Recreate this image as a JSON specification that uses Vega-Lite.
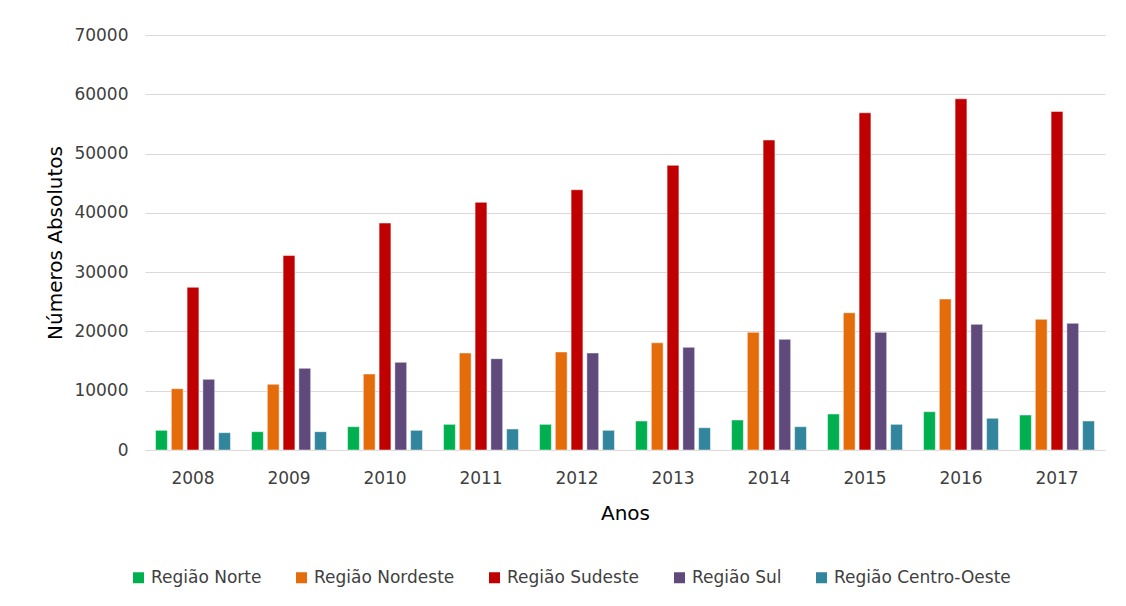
{
  "$schema": "https://vega.github.io/schema/vega-lite/v6.json",
  "width": 960,
  "height": 415,
  "autosize": {"type": "none"},
  "padding": {"left": 145, "top": 35, "right": 21, "bottom": 156},
  "background": "white",
  "config": {
    "view": {"stroke": null},
    "font": "DejaVu Sans",
    "axis": {"labelFont": "DejaVu Sans", "titleFont": "DejaVu Sans", "labelColor": "#404040", "titleColor": "#000000", "titleFontWeight": "normal"},
    "legend": {"labelFont": "DejaVu Sans"}
  },
  "data": {
    "values": [
      {"ano": "2008", "regiao": "Região Norte", "valor": 3320},
      {"ano": "2008", "regiao": "Região Nordeste", "valor": 10340},
      {"ano": "2008", "regiao": "Região Sudeste", "valor": 27440},
      {"ano": "2008", "regiao": "Região Sul", "valor": 11920},
      {"ano": "2008", "regiao": "Região Centro-Oeste", "valor": 2920},
      {"ano": "2009", "regiao": "Região Norte", "valor": 3090},
      {"ano": "2009", "regiao": "Região Nordeste", "valor": 11080},
      {"ano": "2009", "regiao": "Região Sudeste", "valor": 32800},
      {"ano": "2009", "regiao": "Região Sul", "valor": 13780},
      {"ano": "2009", "regiao": "Região Centro-Oeste", "valor": 3090},
      {"ano": "2010", "regiao": "Região Norte", "valor": 3930},
      {"ano": "2010", "regiao": "Região Nordeste", "valor": 12820},
      {"ano": "2010", "regiao": "Região Sudeste", "valor": 38280},
      {"ano": "2010", "regiao": "Região Sul", "valor": 14790},
      {"ano": "2010", "regiao": "Região Centro-Oeste", "valor": 3320},
      {"ano": "2011", "regiao": "Região Norte", "valor": 4330},
      {"ano": "2011", "regiao": "Região Nordeste", "valor": 16360},
      {"ano": "2011", "regiao": "Região Sudeste", "valor": 41770},
      {"ano": "2011", "regiao": "Região Sul", "valor": 15400},
      {"ano": "2011", "regiao": "Região Centro-Oeste", "valor": 3540},
      {"ano": "2012", "regiao": "Região Norte", "valor": 4330},
      {"ano": "2012", "regiao": "Região Nordeste", "valor": 16530},
      {"ano": "2012", "regiao": "Região Sudeste", "valor": 43900},
      {"ano": "2012", "regiao": "Região Sul", "valor": 16360},
      {"ano": "2012", "regiao": "Região Centro-Oeste", "valor": 3320},
      {"ano": "2013", "regiao": "Região Norte", "valor": 4890},
      {"ano": "2013", "regiao": "Região Nordeste", "valor": 18090},
      {"ano": "2013", "regiao": "Região Sudeste", "valor": 48010},
      {"ano": "2013", "regiao": "Região Sul", "valor": 17320},
      {"ano": "2013", "regiao": "Região Centro-Oeste", "valor": 3760},
      {"ano": "2014", "regiao": "Região Norte", "valor": 5060},
      {"ano": "2014", "regiao": "Região Nordeste", "valor": 19850},
      {"ano": "2014", "regiao": "Região Sudeste", "valor": 52280},
      {"ano": "2014", "regiao": "Região Sul", "valor": 18670},
      {"ano": "2014", "regiao": "Região Centro-Oeste", "valor": 3930},
      {"ano": "2015", "regiao": "Região Norte", "valor": 6070},
      {"ano": "2015", "regiao": "Região Nordeste", "valor": 23150},
      {"ano": "2015", "regiao": "Região Sudeste", "valor": 56880},
      {"ano": "2015", "regiao": "Região Sul", "valor": 19850},
      {"ano": "2015", "regiao": "Região Centro-Oeste", "valor": 4330},
      {"ano": "2016", "regiao": "Região Norte", "valor": 6460},
      {"ano": "2016", "regiao": "Região Nordeste", "valor": 25460},
      {"ano": "2016", "regiao": "Região Sudeste", "valor": 59240},
      {"ano": "2016", "regiao": "Região Sul", "valor": 21200},
      {"ano": "2016", "regiao": "Região Centro-Oeste", "valor": 5350},
      {"ano": "2017", "regiao": "Região Norte", "valor": 5900},
      {"ano": "2017", "regiao": "Região Nordeste", "valor": 22040},
      {"ano": "2017", "regiao": "Região Sudeste", "valor": 57110},
      {"ano": "2017", "regiao": "Região Sul", "valor": 21370},
      {"ano": "2017", "regiao": "Região Centro-Oeste", "valor": 4890}
    ]
  },
  "mark": {"type": "bar", "stroke": "white", "strokeWidth": 0.8, "strokeOpacity": 0.6},
  "encoding": {
    "x": {
      "field": "ano",
      "type": "nominal",
      "scale": {"paddingInner": 0.22, "paddingOuter": 0.11},
      "axis": {
        "title": "Anos",
        "titleFontSize": 20,
        "titlePadding": 17,
        "labelFontSize": 17,
        "labelAngle": 0,
        "labelPadding": 20,
        "ticks": false,
        "domainColor": "#d9d9d9",
        "domainWidth": 1
      }
    },
    "xOffset": {
      "field": "regiao",
      "type": "nominal",
      "sort": ["Região Norte", "Região Nordeste", "Região Sudeste", "Região Sul", "Região Centro-Oeste"],
      "scale": {"paddingInner": 0.25}
    },
    "y": {
      "field": "valor",
      "type": "quantitative",
      "scale": {"domain": [0, 70000]},
      "axis": {
        "title": "Números Absolutos",
        "titleFontSize": 20,
        "titlePadding": 8,
        "labelFontSize": 17,
        "labelPadding": 17,
        "values": [0, 10000, 20000, 30000, 40000, 50000, 60000, 70000],
        "format": "d",
        "domain": false,
        "ticks": false,
        "gridColor": "#d9d9d9",
        "gridWidth": 1
      }
    },
    "color": {
      "field": "regiao",
      "type": "nominal",
      "sort": ["Região Norte", "Região Nordeste", "Região Sudeste", "Região Sul", "Região Centro-Oeste"],
      "scale": {
        "domain": ["Região Norte", "Região Nordeste", "Região Sudeste", "Região Sul", "Região Centro-Oeste"],
        "range": ["#00B050", "#E46C0A", "#C00000", "#604A7B", "#31859C"]
      },
      "legend": {
        "title": null,
        "orient": "none",
        "direction": "horizontal",
        "legendX": -15,
        "legendY": 534,
        "symbolType": "square",
        "symbolSize": 121,
        "symbolStrokeWidth": 0,
        "labelFontSize": 17,
        "labelColor": "#404040",
        "labelOffset": 4,
        "labelLimit": 400,
        "columnPadding": 31
      }
    }
  }
}
